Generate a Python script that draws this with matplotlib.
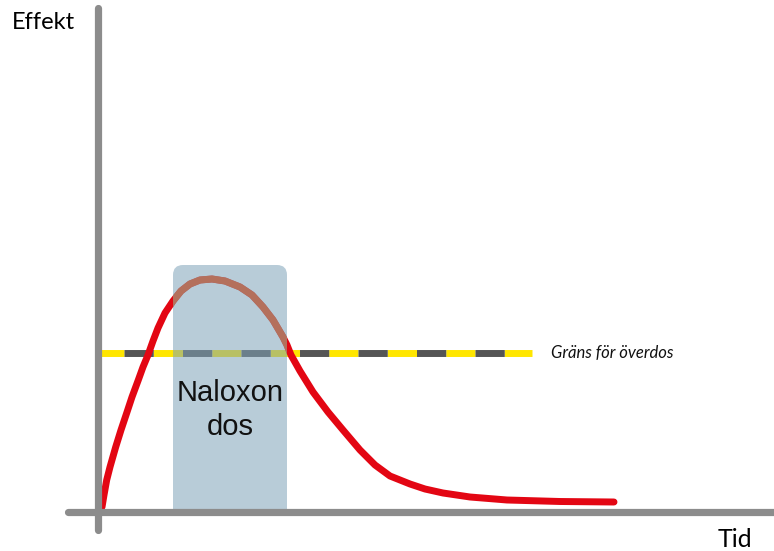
import matplotlib
matplotlib.use("Agg")
import matplotlib.pyplot as plt
from matplotlib.patches import FancyBboxPatch, Rectangle

plt.rcParams['lines.scale_dashes'] = False

# effect curve (time, effect)
tid = [0.08, 0.12, 0.174, 0.24, 0.354, 0.46, 0.574, 0.68, 0.806, 0.90, 1.00, 1.10, 1.20,
       1.34, 1.50, 1.66, 1.84, 2.04, 2.28, 2.54, 2.84, 3.08, 3.30, 3.50, 3.70, 3.78, 3.86,
       4.04, 4.30, 4.60, 4.90, 5.24, 5.54, 5.84, 6.24, 6.54, 6.90, 7.44, 8.18, 9.24, 10.32]
effekt = [0.10, 0.34, 0.64, 0.90, 1.30, 1.64, 1.98, 2.30, 2.64, 2.90, 3.14, 3.42, 3.68,
          3.98, 4.22, 4.42, 4.56, 4.64, 4.66, 4.62, 4.50, 4.34, 4.10, 3.84, 3.50, 3.34, 3.14,
          2.82, 2.40, 2.00, 1.64, 1.24, 0.94, 0.72, 0.56, 0.46, 0.38, 0.30, 0.24, 0.21, 0.20]

grans = 3.18            # overdose limit
grans_tid = [0.06, 8.68]
dos_start, dos_slut = 1.50, 3.78   # naloxon dose window
dos_topp = 4.94

fig = plt.figure(figsize=(7.74, 5.51), dpi=100)
ax = fig.add_axes([0, 0, 1, 1])
ax.set_xlim(-1.96, 13.52)
ax.set_ylim(-0.78, 10.24)
ax.axis('off')

# curve
ax.plot(tid, effekt, color='#e30613', lw=5.0, solid_capstyle='round',
        solid_joinstyle='round', zorder=3)

# threshold line, yellow/dark gray
ax.plot(grans_tid, [grans, grans], color='#555555', gapcolor='#ffe600', lw=5,
        linestyle=(25.56, (21.06, 21.06)), dash_capstyle='butt', zorder=2)
ax.text(9.06, grans, 'Gräns för överdos', fontstyle='italic', fontsize=12,
        family=['Lato', 'DejaVu Sans'], va='center', ha='left', color='#111111')

# naloxon box
box = FancyBboxPatch((dos_start, -1.0), dos_slut - dos_start, dos_topp + 1.0,
                     boxstyle='round,pad=0,rounding_size=0.2',
                     fc=(126/255, 162/255, 184/255), ec='none', alpha=0.55, zorder=4)
ax.add_patch(box)
box.set_clip_path(Rectangle((-5, 0), 30, 30, transform=ax.transData))

# curve seen through the box
inne, = ax.plot(tid, effekt, color='#b4705c', lw=5.0, solid_capstyle='butt',
                solid_joinstyle='round', zorder=4.5)
inne.set_clip_path(Rectangle((dos_start, 0), dos_slut - dos_start, 30, transform=ax.transData))

mitt = (dos_start + dos_slut) / 2
ax.text(mitt, 2.22, 'Naloxon', ha='center', va='baseline',
        fontsize=21, family='Liberation Sans', color='#111111', zorder=5)
ax.text(mitt, 1.54, 'dos', ha='center', va='baseline',
        fontsize=21, family='Liberation Sans', color='#111111', zorder=5)

# axes
ax.plot([0, 0], [-0.36, 10.08], color='#8c8c8c', lw=5.2, solid_capstyle='round', zorder=6)
ax.plot([-0.6, 14], [0, 0], color='#8c8c8c', lw=5.2, solid_capstyle='round', zorder=6)

ax.text(-1.72, 9.66, 'Effekt', fontsize=17, family='Lato', va='baseline', ha='left')
ax.text(12.4, -0.70, 'Tid', fontsize=18, family='Lato', va='baseline', ha='left')

fig.savefig('out.png', dpi=100)
